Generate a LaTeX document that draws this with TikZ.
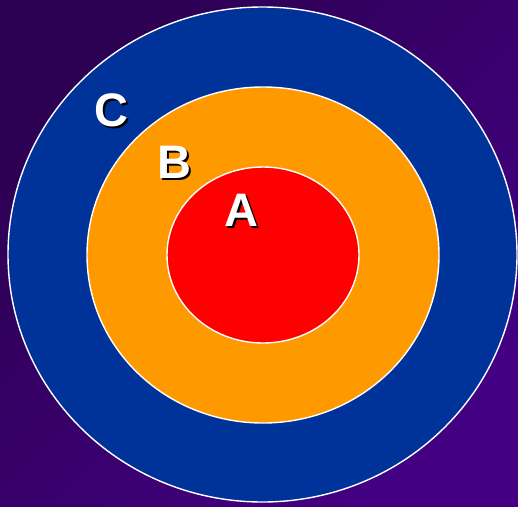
\documentclass[tikz,border=0pt]{standalone}
\usepackage{fontspec}
\setmainfont{Liberation Sans}
\usetikzlibrary{shapes.geometric}

\definecolor{bgdark}{HTML}{2C0052}
\definecolor{bglight}{HTML}{430083}
\definecolor{ringblue}{HTML}{003399}
\definecolor{ringorange}{HTML}{FF9900}
\definecolor{ringred}{HTML}{FF0000}

\begin{document}
\begin{tikzpicture}[
  x=1pt, y=-1pt,
  ring/.style = {draw=white, line width=1.4pt, ellipse, inner sep=0pt},
  tag/.style  = {font=\fontsize{47}{47}\selectfont\bfseries, text=white, inner sep=0pt},
  tagshadow/.style = {tag, text=black},
]
  \useasboundingbox (0,0) rectangle (518,506);
  \shade[top color=bgdark, bottom color=bglight, shading angle=45] (0,0) rectangle (518,506);

  % rings, outside in
  \node[ring, fill=ringblue,   minimum width=509pt, minimum height=495pt] (ringC) at (262.5,254.5) {};
  \node[ring, fill=ringorange, minimum width=352pt, minimum height=336pt] (ringB) at (263,255) {};
  \node[ring, fill=ringred,    minimum width=192pt, minimum height=176pt] (ringA) at (263,255) {};

  % labels with drop shadow
  \foreach \name/\txt/\px/\py in {labC/C/111/110, labB/B/174/162, labA/A/241/210} {
    \node[tagshadow] at (\px+2.5,\py+2.5) {\txt};
    \node[tag] (\name) at (\px,\py) {\txt};
  }
\end{tikzpicture}
\end{document}
